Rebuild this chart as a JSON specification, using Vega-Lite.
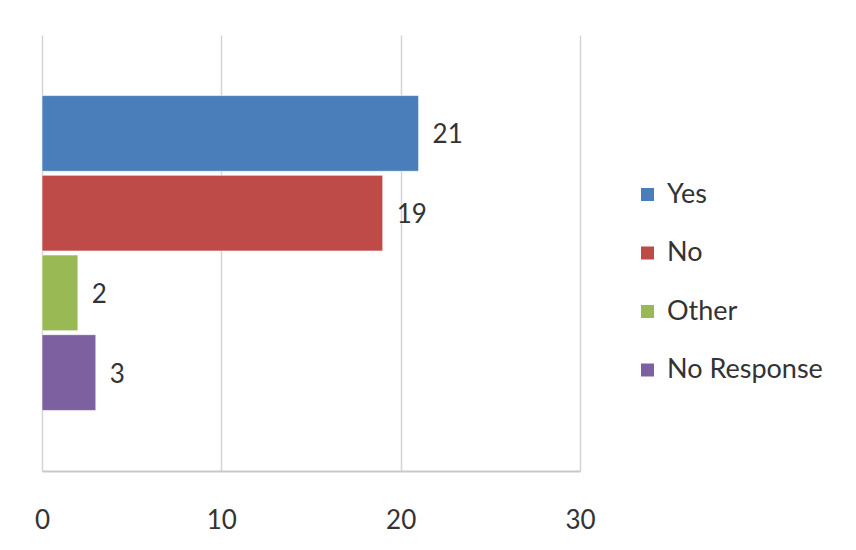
{
  "$schema": "https://vega.github.io/schema/vega-lite/v6.json",
  "autosize": "none",
  "width": 538,
  "height": 436,
  "padding": {"left": 42, "top": 35, "right": 276, "bottom": 79},
  "background": "white",
  "data": {"values": [
    {"answer": "Yes", "count": 21},
    {"answer": "No", "count": 19},
    {"answer": "Other", "count": 2},
    {"answer": "No Response", "count": 3}
  ]},
  "config": {
    "view": {"stroke": null},
    "font": "Lato"
  },
  "encoding": {
    "y": {
      "field": "answer", "type": "nominal",
      "sort": ["Yes", "No", "Other", "No Response"],
      "scale": {"paddingInner": 0.05, "paddingOuter": 0.76},
      "axis": null
    },
    "x": {
      "field": "count", "type": "quantitative",
      "scale": {"domain": [0, 30]},
      "axis": {
        "values": [0, 10, 20, 30],
        "title": null,
        "ticks": false,
        "labelFlush": false,
        "labelPadding": 36,
        "labelFontSize": 26,
        "labelColor": "#333333",
        "labelFont": "Lato",
        "domainColor": "#c8c8c8",
        "domainWidth": 2,
        "gridColor": "#d4d4d4",
        "gridWidth": 1.5
      }
    }
  },
  "layer": [
    {
      "mark": {"type": "bar", "stroke": "#ffffff", "strokeOpacity": 0.6, "strokeWidth": 1},
      "encoding": {
        "color": {
          "field": "answer", "type": "nominal",
          "sort": ["Yes", "No", "Other", "No Response"],
          "scale": {
            "domain": ["Yes", "No", "Other", "No Response"],
            "range": ["#4a7ebb", "#be4b48", "#98b954", "#7d60a0"]
          },
          "legend": {
            "title": null,
            "orient": "none",
            "legendX": 592,
            "legendY": 146,
            "symbolType": "square",
            "symbolSize": 169,
            "symbolStrokeWidth": 0,
            "labelFontSize": 27,
            "labelColor": "#333333",
            "labelFont": "Lato",
            "rowPadding": 30.5,
            "labelOffset": 6
          }
        }
      }
    },
    {
      "mark": {"type": "text", "align": "left", "baseline": "middle", "dx": 14, "dy": 2, "fontSize": 26, "color": "#333333"},
      "encoding": {
        "text": {"field": "count", "type": "quantitative"}
      }
    }
  ]
}
